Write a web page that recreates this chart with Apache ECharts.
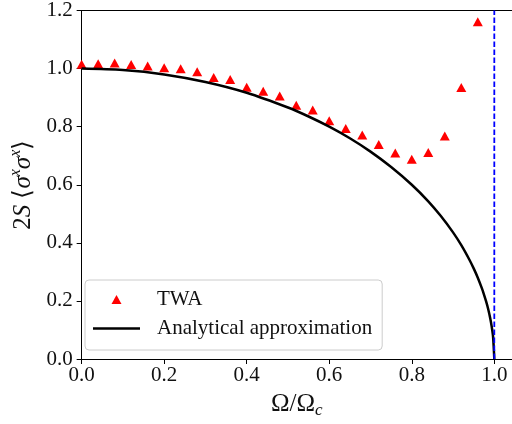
<!DOCTYPE html>
<html>
<head>
<meta charset="utf-8">
<script src="https://cdn.jsdelivr.net/npm/echarts@6/dist/echarts.min.js"></script>
<style>
  html, body { margin: 0; padding: 0; background: #ffffff; }
  #chart { width: 512px; height: 424px; }
</style>
</head>
<body>
<div id="chart"></div>
<script>
// Ω/Ω_c sample points of the TWA simulation
const omegaRatio = [0.00, 0.04, 0.08, 0.12, 0.16, 0.20, 0.24, 0.28, 0.32, 0.36,
                    0.40, 0.44, 0.48, 0.52, 0.56, 0.60, 0.64, 0.68, 0.72, 0.76,
                    0.80, 0.84, 0.88, 0.92, 0.96];
// 2S<σxσx> from TWA
const twaValues = [1.015, 1.017, 1.019, 1.014, 1.009, 1.003, 0.999, 0.989, 0.969, 0.962,
                   0.936, 0.922, 0.906, 0.874, 0.857, 0.820, 0.794, 0.771, 0.739, 0.709,
                   0.688, 0.711, 0.768, 0.935, 1.161];
// analytical approximation curve
const analyticX = [0.00, 0.10, 0.20, 0.30, 0.40, 0.50, 0.55, 0.60, 0.65, 0.70,
                   0.75, 0.80, 0.84, 0.87, 0.90, 0.92, 0.94, 0.95, 0.96, 0.97,
                   0.975, 0.98, 0.985, 0.99, 0.994, 0.997, 1.00];
const analyticY = [1.000, 0.995, 0.980, 0.954, 0.917, 0.866, 0.835, 0.800, 0.760, 0.714,
                   0.661, 0.600, 0.543, 0.493, 0.436, 0.392, 0.341, 0.312, 0.280, 0.243,
                   0.222, 0.199, 0.173, 0.141, 0.109, 0.077, 0.000];
// critical coupling marker
const criticalLine = [[1.0, 0.0], [1.0, 1.2]];
// axis ticks
const xTicks = [0.0, 0.2, 0.4, 0.6, 0.8, 1.0];
const yMin = 0, yMax = 1.2, yStep = 0.2;
const xMin = 0, xMax = 1.0429;

const serif = 'Liberation Serif';
const ink = '#111111';

const twaData = omegaRatio.map((x, i) => [x, twaValues[i]]);
const analyticData = analyticX.map((x, i) => [x, analyticY[i]]);

const chart = echarts.init(document.getElementById('chart'), null, { renderer: 'canvas' });

chart.setOption({
  animation: false,
  backgroundColor: '#ffffff',
  grid: { left: 74, top: 8, right: 0, bottom: 65, containLabel: false },
  xAxis: [{
    type: 'value',
    min: xMin, max: xMax,
    name: '{n|Ω/Ω}{sub|c}',
    nameLocation: 'middle',
    nameGap: 30,
    nameTextStyle: {
      rich: {
        n: { fontFamily: serif, fontSize: 25, color: ink, lineHeight: 30, verticalAlign: 'middle' },
        sub: { fontFamily: serif, fontSize: 17, fontStyle: 'italic', color: ink, lineHeight: 16, verticalAlign: 'bottom' }
      }
    },
    axisLine: { show: true, lineStyle: { color: '#000', width: 1 } },
    axisTick: { show: true, length: 5, lineStyle: { color: '#000', width: 1 }, customValues: xTicks },
    axisLabel: {
      customValues: xTicks,
      formatter: v => v.toFixed(1),
      fontFamily: serif, fontSize: 21, color: ink, margin: 6
    },
    splitLine: { show: false }
  }, {
    type: 'value',
    position: 'top',
    min: xMin, max: xMax,
    axisLine: { show: true, onZero: false, lineStyle: { color: '#000', width: 1 } },
    axisTick: { show: false },
    axisLabel: { show: false },
    splitLine: { show: false }
  }],
  yAxis: {
    type: 'value',
    min: yMin, max: yMax, interval: yStep,
    name: '{n|2}{i|S}{n| ⟨}{i|σ}{s|x}{i|σ}{s|x}{n|⟩}',
    nameLocation: 'middle',
    nameRotate: 90,
    nameGap: 34,
    nameTextStyle: {
      rich: {
        n: { fontFamily: serif, fontSize: 25, color: ink, lineHeight: 30, verticalAlign: 'middle' },
        i: { fontFamily: serif, fontSize: 25, fontStyle: 'italic', color: ink, lineHeight: 30, verticalAlign: 'middle' },
        s: { fontFamily: serif, fontSize: 16, fontStyle: 'italic', color: ink, lineHeight: 16, verticalAlign: 'top' }
      }
    },
    axisLine: { show: true, lineStyle: { color: '#000', width: 1 } },
    axisTick: { show: true, length: 5, lineStyle: { color: '#000', width: 1 } },
    axisLabel: {
      formatter: v => v.toFixed(1),
      fontFamily: serif, fontSize: 21, color: ink, margin: 9
    },
    splitLine: { show: false }
  },
  legend: {
    orient: 'vertical',
    left: 85, top: 280,
    padding: [9, 10, 11, 8],
    itemWidth: 47, itemHeight: 10, itemGap: 8,
    backgroundColor: 'rgba(255,255,255,0.8)',
    borderColor: '#cccccc', borderWidth: 1, borderRadius: 4,
    selectedMode: false,
    textStyle: { fontFamily: serif, fontSize: 21, color: ink, lineHeight: 20, padding: [0, 0, 0, 12] },
    data: [
      { name: 'TWA', icon: 'path://M0,0M47,10M18.5,9.5L28.5,9.5L23.5,0.5Z',
        itemStyle: { color: '#ff0000', borderWidth: 0, opacity: 1 } },
      { name: 'Analytical approximation', icon: 'path://M0,0M47,10M0,3.75L47,3.75L47,6.25L0,6.25Z',
        itemStyle: { color: '#000000', borderWidth: 0, opacity: 1 } }
    ]
  },
  series: [
    {
      name: 'TWA',
      type: 'scatter',
      data: twaData,
      symbol: 'triangle',
      symbolSize: [10, 9],
      itemStyle: { color: '#ff0000', opacity: 1 },
      z: 2
    },
    {
      name: 'Analytical approximation',
      type: 'line',
      data: analyticData,
      symbol: 'none',
      smooth: 0.3,
      lineStyle: { color: '#000000', width: 2.5 },
      itemStyle: { color: '#000000' },
      z: 3
    },
    {
      name: 'critical',
      type: 'line',
      data: criticalLine,
      symbol: 'none',
      lineStyle: { color: '#0000ff', width: 1.8, type: [5.5, 2.5] },
      z: 4
    }
  ]
});
</script>
</body>
</html>
